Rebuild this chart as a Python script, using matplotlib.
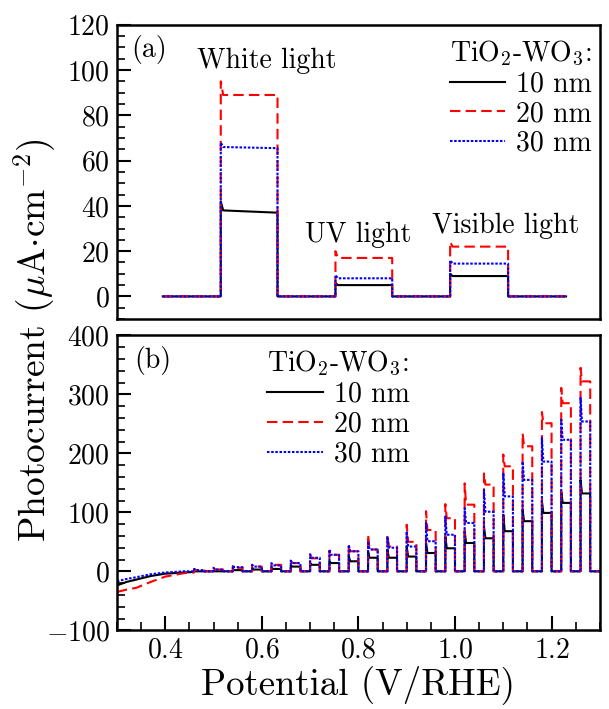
import matplotlib
matplotlib.use("Agg")
import matplotlib.pyplot as plt
import numpy as np

plt.rcParams['font.family'] = 'serif'
plt.rcParams['font.serif'] = ['cmr10']
plt.rcParams['mathtext.fontset'] = 'cm'
plt.rcParams['axes.formatter.use_mathtext'] = True
plt.rcParams['axes.unicode_minus'] = True

#-----------------------------------------------------------------------------
# (a) chopped photocurrent under white / UV / visible light
t_switch = [19, 43, 66.5, 90.5, 114, 138, 162, 186]   # start, on, off, on, off, on, off, end (s)
labels = ['10 nm', '20 nm', '30 nm']
# each light period: (spike, plateau start, plateau end)
steps_10 = [(42, 38, 37), (6, 5, 5), (10, 9, 9)]
steps_20 = [(95, 89, 89), (20, 17, 17), (24, 22, 22)]
steps_30 = [(68, 66, 65.5), (9.5, 8, 8), (16, 14.5, 14.5)]

#-----------------------------------------------------------------------------
# (b) chopped LSV
dark_v = [0.30, 0.32, 0.34, 0.37, 0.40, 0.44, 0.46]
dark_10 = [-24, -18, -14, -8, -4, -2, -1]
dark_20 = [-35, -31, -28, -18, -9, -3, -2]
dark_30 = [-17, -13, -10, -5, -2, 0, 0]

pulse_on = [0.46, 0.50, 0.54, 0.58, 0.62, 0.66, 0.70, 0.74, 0.78, 0.82, 0.86,
            0.90, 0.94, 0.98, 1.02, 1.06, 1.10, 1.14, 1.18, 1.22, 1.26]
pulse_len = 0.02
peak_10 = [1, 1, 3, 6, 6, 10, 14, 17, 26, 34, 37, 42, 48, 59, 68, 76, 96, 104, 119, 135, 155]
end_10 = [0, 0, 2, 3, 4, 8, 11, 14, 17, 23, 23, 25, 31, 39, 48, 56, 68, 85, 99, 116, 132]
peak_20 = [4, 6, 9, 11, 14, 18, 28, 35, 45, 62, 62, 79, 102, 114, 149, 166, 198, 234, 270, 311, 345]
end_20 = [2, 3, 6, 8, 11, 14, 22, 28, 34, 37, 42, 50, 70, 90, 113, 147, 178, 212, 251, 285, 322]
peak_30 = [4, 6, 10, 11, 14, 18, 29, 37, 45, 51, 59, 68, 82, 93, 107, 138, 167, 186, 226, 257, 294]
end_30 = [2, 3, 7, 8, 10, 14, 23, 28, 34, 37, 40, 42, 51, 62, 82, 101, 127, 155, 186, 223, 254]
v_end = 1.30

colors = ['black', 'red', 'blue']
styles = ['-', (0, (5, 2.5)), (0, (1.2, 0.8))]


def step_trace(steps):
    x = [t_switch[0]]
    y = [0]
    for i, (spike, p0, p1) in enumerate(steps):
        on = t_switch[1 + 2 * i]
        off = t_switch[2 + 2 * i]
        x += [on, on, on + 1.0, off, off]
        y += [0, spike, p0, p1, 0]
    x.append(t_switch[-1])
    y.append(0)
    return x, y


def lsv_trace(dark, peak, end):
    x = list(dark_v)
    y = list(dark)
    for i, on in enumerate(pulse_on):
        x += [on, on, on + 0.003, on + pulse_len, on + pulse_len]
        y += [0, peak[i], end[i], end[i], 0]
    x.append(v_end)
    y.append(0)
    return x, y


fig = plt.figure(figsize=(6.09, 7.09), dpi=100)
ax1 = fig.add_axes([0.192, 0.550, 0.793, 0.415])
ax2 = fig.add_axes([0.192, 0.111, 0.793, 0.416])

for steps, c, ls, lab in zip([steps_10, steps_20, steps_30], colors, styles, labels):
    x, y = step_trace(steps)
    ax1.plot(x, y, color=c, ls=ls, lw=1.5, label=lab)

for dark, pk, en, c, ls, lab in zip([dark_10, dark_20, dark_30], [peak_10, peak_20, peak_30],
                                    [end_10, end_20, end_30], colors, styles, labels):
    x, y = lsv_trace(dark, pk, en)
    ax2.plot(x, y, color=c, ls=ls, lw=1.5, label=lab)

fs = 20
ax1.set_xlim(0, 200)
ax1.set_ylim(-10, 120)
ax1.set_xticks([])
ax1.set_yticks(np.arange(0, 121, 20))
ax1.set_yticks(np.arange(-10, 121, 5), minor=True)

ax2.set_xlim(0.3, 1.3)
ax2.set_ylim(-100, 400)
ax2.set_xticks([0.4, 0.6, 0.8, 1.0, 1.2])
ax2.set_xticks(np.arange(0.3, 1.31, 0.05), minor=True)
ax2.set_yticks(np.arange(-100, 401, 100))
ax2.set_yticks(np.arange(-100, 401, 20), minor=True)

for ax in (ax1, ax2):
    for s in ax.spines.values():
        s.set_linewidth(1.8)
    ax.tick_params(which='major', direction='in', length=10, width=1.5, labelsize=fs, pad=5)
    ax.tick_params(which='minor', direction='in', length=5.5, width=1.2)

ax1.text(0.03, 0.965, '(a)', transform=ax1.transAxes, fontsize=fs, va='top')
ax2.text(0.035, 0.965, '(b)', transform=ax2.transAxes, fontsize=fs, va='top')

ax1.text(62, 104, 'White light', fontsize=fs, ha='center', va='center')
ax1.text(100, 27, 'UV light', fontsize=fs, ha='center', va='center')
ax1.text(161, 31, 'Visible light', fontsize=fs, ha='center', va='center')

leg_title = r'TiO$_2$-WO$_3$:'
l1 = ax1.legend(title=leg_title, loc='upper left', bbox_to_anchor=(0.66, 1.0), frameon=False,
                fontsize=fs, title_fontsize=fs, handlelength=2.0, handletextpad=0.4,
                labelspacing=0.12, borderaxespad=0.2, borderpad=0.3, alignment='left')
l2 = ax2.legend(title=leg_title, loc='upper left', bbox_to_anchor=(0.283, 1.0), frameon=False,
                fontsize=fs, title_fontsize=fs, handlelength=2.0, handletextpad=0.4,
                labelspacing=0.12, borderaxespad=0.2, borderpad=0.3, alignment='left')

ax2.set_xlabel('Potential (V/RHE)', fontsize=26.5, labelpad=1)
fig.text(0.057, 0.52, r'Photocurrent ($\mu$A$\cdot$cm$^{-2}$)', rotation=90,
         fontsize=27, ha='center', va='center')

plt.savefig('out.png', dpi=100)
